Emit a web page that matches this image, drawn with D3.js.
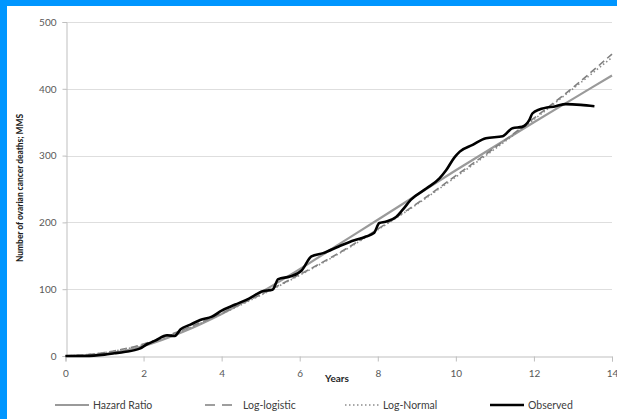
<!DOCTYPE html>
<html>
<head>
<meta charset="utf-8">
<script src="https://cdn.jsdelivr.net/npm/d3@7"></script>
<style>
  html, body { margin: 0; padding: 0; background: #fff; }
  svg { display: block; }
  text { font-family: Lato, "Open Sans", "Liberation Sans", sans-serif; }
</style>
</head>
<body>
<svg id="chart" width="617" height="419"></svg>
<script>
// Cumulative ovarian cancer deaths (MMS) by years of follow-up
const years = [0, 1, 2, 3, 4, 5, 6, 7, 8, 9, 10, 11, 12, 13, 14];
const hazardRatio = [0, 3, 15, 36, 63, 95, 130, 167, 204, 241, 278, 314, 350, 385, 420];
const logLogistic = [0, 5, 18, 39, 64, 92, 122, 154, 190, 228, 270, 312, 356, 402, 452];
const logNormal = [0, 5, 17, 38, 63, 91, 121, 153, 189, 227, 268, 310, 354, 400, 447];

const observedYears = [0, 0.5, 1.0, 1.25, 1.5, 1.9, 2.1, 2.3, 2.6, 2.8, 2.95, 3.2, 3.45, 3.75, 4.0,
  4.35, 4.7, 5.05, 5.3, 5.45, 5.75, 6.05, 6.3, 6.6, 7.0, 7.25, 7.7, 7.9, 8.04, 8.2, 8.47, 8.64,
  8.85, 9.25, 9.58, 9.75, 9.96, 10.1, 10.43, 10.77, 11.2, 11.45, 11.7, 11.88, 11.96, 12.14,
  12.56, 12.82, 13.2, 13.55];
const observed = [0, 0, 2, 4, 6, 11, 18, 23, 31, 30, 40, 47, 54, 59, 68,
  77, 86, 97, 99, 115, 119, 128, 149, 154, 164, 170, 179, 184, 199, 201, 208, 219,
  234, 251, 266, 278, 297, 306, 316, 326, 329, 341, 343, 353, 363, 369,
  374, 377, 376, 374];

const xTicks = [0, 2, 4, 6, 8, 10, 12, 14];
const yTicks = [0, 100, 200, 300, 400, 500];

const legendItems = [
  { name: "Hazard Ratio", x: 55, dash: null },
  { name: "Log-logistic", x: 205, dash: "10,7" },
  { name: "Log-Normal", x: 345, dash: "1.5,2.5" },
  { name: "Observed", x: 490, dash: null }
];

const styles = {
  "Hazard Ratio": { stroke: "#9a9a9a", width: 2.2, dash: null },
  "Log-logistic": { stroke: "#7f7f7f", width: 1.6, dash: "7,4" },
  "Log-Normal": { stroke: "#8c8c8c", width: 1.6, dash: "1.5,2.5" },
  "Observed": { stroke: "#000000", width: 2.6, dash: null }
};

const svg = d3.select("#chart");

// Frame edges
svg.append("rect").attr("x", 0).attr("y", 0).attr("width", 617).attr("height", 6).attr("fill", "#0096ff");
svg.append("rect").attr("x", 0).attr("y", 0).attr("width", 7).attr("height", 419).attr("fill", "#0096ff");

const x = d3.scaleLinear().domain([0, 14]).range([65.5, 612]);
const y = d3.scaleLinear().domain([0, 500]).range([356, 22]);

// Gridlines
svg.append("g")
  .selectAll("line")
  .data(yTicks.filter(d => d > 0))
  .join("line")
  .attr("x1", x(0)).attr("x2", x(14))
  .attr("y1", d => Math.round(y(d)) + 0.5).attr("y2", d => Math.round(y(d)) + 0.5)
  .attr("stroke", "#dedede").attr("stroke-width", 1);

// Y axis
const yAxis = svg.append("g")
  .attr("transform", `translate(${Math.round(x(0)) + 0.5},0)`)
  .call(d3.axisLeft(y).tickValues(yTicks).tickSize(4).tickPadding(6));
yAxis.select(".domain").attr("stroke", "#bfbfbf");
yAxis.selectAll(".tick line").attr("stroke", "#bfbfbf");
yAxis.selectAll(".tick text").attr("fill", "#595959").attr("font-size", 10);

// X axis
const xAxis = svg.append("g")
  .attr("transform", `translate(0,${Math.round(y(0)) + 0.5})`)
  .call(d3.axisBottom(x).tickValues(xTicks).tickSize(5).tickPadding(8));
xAxis.select(".domain").attr("stroke", "#bfbfbf");
xAxis.selectAll(".tick line").attr("stroke", "#bfbfbf");
xAxis.selectAll(".tick text").attr("fill", "#595959").attr("font-size", 10);

// Axis titles
svg.append("text")
  .attr("x", 337).attr("y", 382)
  .attr("text-anchor", "middle")
  .attr("font-size", 10).attr("font-weight", "bold").attr("fill", "#262626")
  .text("Years");

svg.append("text")
  .attr("transform", "translate(23,188) rotate(-90)")
  .attr("text-anchor", "middle")
  .attr("font-size", 8.4).attr("font-weight", "900").attr("fill", "#1f1f1f")
  .text("Number of ovarian cancer deaths; MMS");

// Series
const line = d3.line()
  .x(d => x(d[0]))
  .y(d => y(d[1]))
  .curve(d3.curveMonotoneX);

const series = [
  { name: "Hazard Ratio", pts: d3.zip(years, hazardRatio) },
  { name: "Log-logistic", pts: d3.zip(years, logLogistic) },
  { name: "Log-Normal", pts: d3.zip(years, logNormal) },
  { name: "Observed", pts: d3.zip(observedYears, observed) }
];

svg.append("g")
  .selectAll("path")
  .data(series)
  .join("path")
  .attr("d", d => line(d.pts))
  .attr("fill", "none")
  .attr("stroke", d => styles[d.name].stroke)
  .attr("stroke-width", d => styles[d.name].width)
  .attr("stroke-dasharray", d => styles[d.name].dash)
  .attr("stroke-linejoin", "round");

// Legend
const legend = svg.append("g").attr("transform", "translate(0,405)");
const item = legend.selectAll("g").data(legendItems).join("g")
  .attr("transform", d => `translate(${d.x},0)`);
item.append("line")
  .attr("x1", 0).attr("x2", 34).attr("y1", 0).attr("y2", 0)
  .attr("stroke", d => styles[d.name].stroke)
  .attr("stroke-width", d => styles[d.name].width)
  .attr("stroke-dasharray", d => d.dash);
item.append("text")
  .attr("x", 38).attr("y", 3.5)
  .attr("font-size", 10.5).attr("fill", "#404040")
  .text(d => d.name);
</script>
</body>
</html>
